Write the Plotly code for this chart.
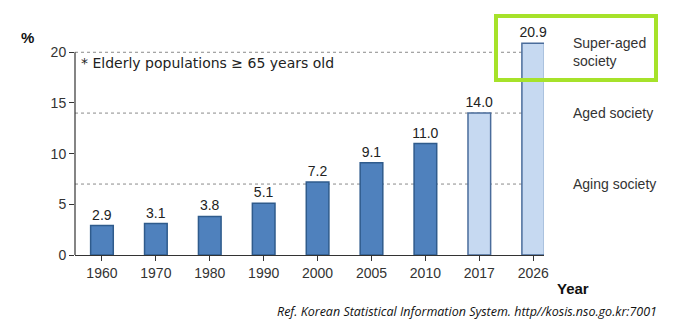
import plotly.graph_objects as go

# Share of population aged 65+ in Korea (%)
years = ["1960", "1970", "1980", "1990", "2000", "2005", "2010", "2017", "2026"]
elderly_pct = [2.9, 3.1, 3.8, 5.1, 7.2, 9.1, 11.0, 14.0, 20.9]
is_projection = [False, False, False, False, False, False, False, True, True]

# Society-stage thresholds and their labels
stage_levels = [7, 14, 20]
stage_labels = ["Aging society", "Aged society", "Super-aged<br>society"]
y_ticks = [0, 5, 10, 15, 20]

fill = ["#c6d9f1" if p else "#4f81bd" for p in is_projection]
edge = ["#4a6c9b" if p else "#2f5b8c" for p in is_projection]

BASE_FONT = "Liberation Sans, Arial"

fig = go.Figure()
fig.add_trace(go.Bar(
    x=years, y=elderly_pct,
    width=0.42,
    marker=dict(color=fill, line=dict(color=edge, width=1.5)),
    text=[f"{v:.1f}" for v in elderly_pct],
    textposition="outside",
    constraintext="none",
    textfont=dict(family=BASE_FONT, size=14, color="#222"),
    cliponaxis=False,
))

shapes = []
# Dashed threshold lines behind the bars
for lv in stage_levels:
    shapes.append(dict(type="line", xref="paper", yref="y", x0=0, x1=1, y0=lv, y1=lv,
                       line=dict(color="#8a8a8a", width=1, dash="dot"), layer="below"))
# Left axis line running from 0 to 20 only
shapes.append(dict(type="line", xref="paper", yref="y", x0=0, x1=0, y0=0, y1=20,
                   line=dict(color="#333", width=1.2)))
# Highlight box around the super-aged stage
shapes.append(dict(type="rect", xref="paper", yref="paper", x0=421 / 469, x1=581 / 469,
                   y0=(255 - 80) / 223, y1=(255 - 16) / 223,
                   line=dict(color="#a6e22a", width=4)))

annotations = []
for lv, lab in zip(stage_levels, stage_labels):
    annotations.append(dict(xref="paper", yref="y", x=496 / 469, y=lv, text=lab,
                            showarrow=False, xanchor="left", yanchor="middle", align="left",
                            font=dict(family=BASE_FONT, size=14, color="#333")))
annotations += [
    dict(xref="paper", yref="paper", x=-48 / 469, y=(255 - 38) / 223, text="<b>%</b>",
         showarrow=False, xanchor="center", yanchor="middle",
         font=dict(family=BASE_FONT, size=15, color="#111")),
    dict(xref="paper", yref="paper", x=498 / 469, y=(255 - 288) / 223, text="<b>Year</b>",
         showarrow=False, xanchor="center", yanchor="middle",
         font=dict(family=BASE_FONT, size=15, color="#111")),
    dict(xref="paper", yref="y", x=4 / 469, y=19.9, text="* Elderly populations \u2265 65 years old",
         showarrow=False, xanchor="left", yanchor="top",
         font=dict(family="DejaVu Sans", size=14, color="#222")),
    dict(xref="paper", yref="paper", x=584 / 469, y=(255 - 311) / 223,
         text="<i>Ref. Korean Statistical Information System. http//kosis.nso.go.kr:7001</i>",
         showarrow=False, xanchor="right", yanchor="middle",
         font=dict(family="Open Sans", size=12.5, color="#111")),
]

fig.update_layout(
    width=680, height=325,
    margin=dict(l=75, r=136, t=32, b=70),
    paper_bgcolor="white", plot_bgcolor="white",
    showlegend=False,
    shapes=shapes,
    annotations=annotations,
    xaxis=dict(
        type="category", range=[-0.5, 8.2],
        showline=True, linecolor="#333", linewidth=1.2,
        ticks="outside", ticklen=5, tickcolor="#333",
        showgrid=False, zeroline=False,
        tickfont=dict(family=BASE_FONT, size=14, color="#333"),
    ),
    yaxis=dict(
        range=[0, 22], tickvals=y_ticks,
        showline=False, ticks="outside", ticklen=5, tickcolor="#333",
        showgrid=False, zeroline=False,
        tickfont=dict(family=BASE_FONT, size=14, color="#333"),
    ),
)

fig.write_html("out.html")
